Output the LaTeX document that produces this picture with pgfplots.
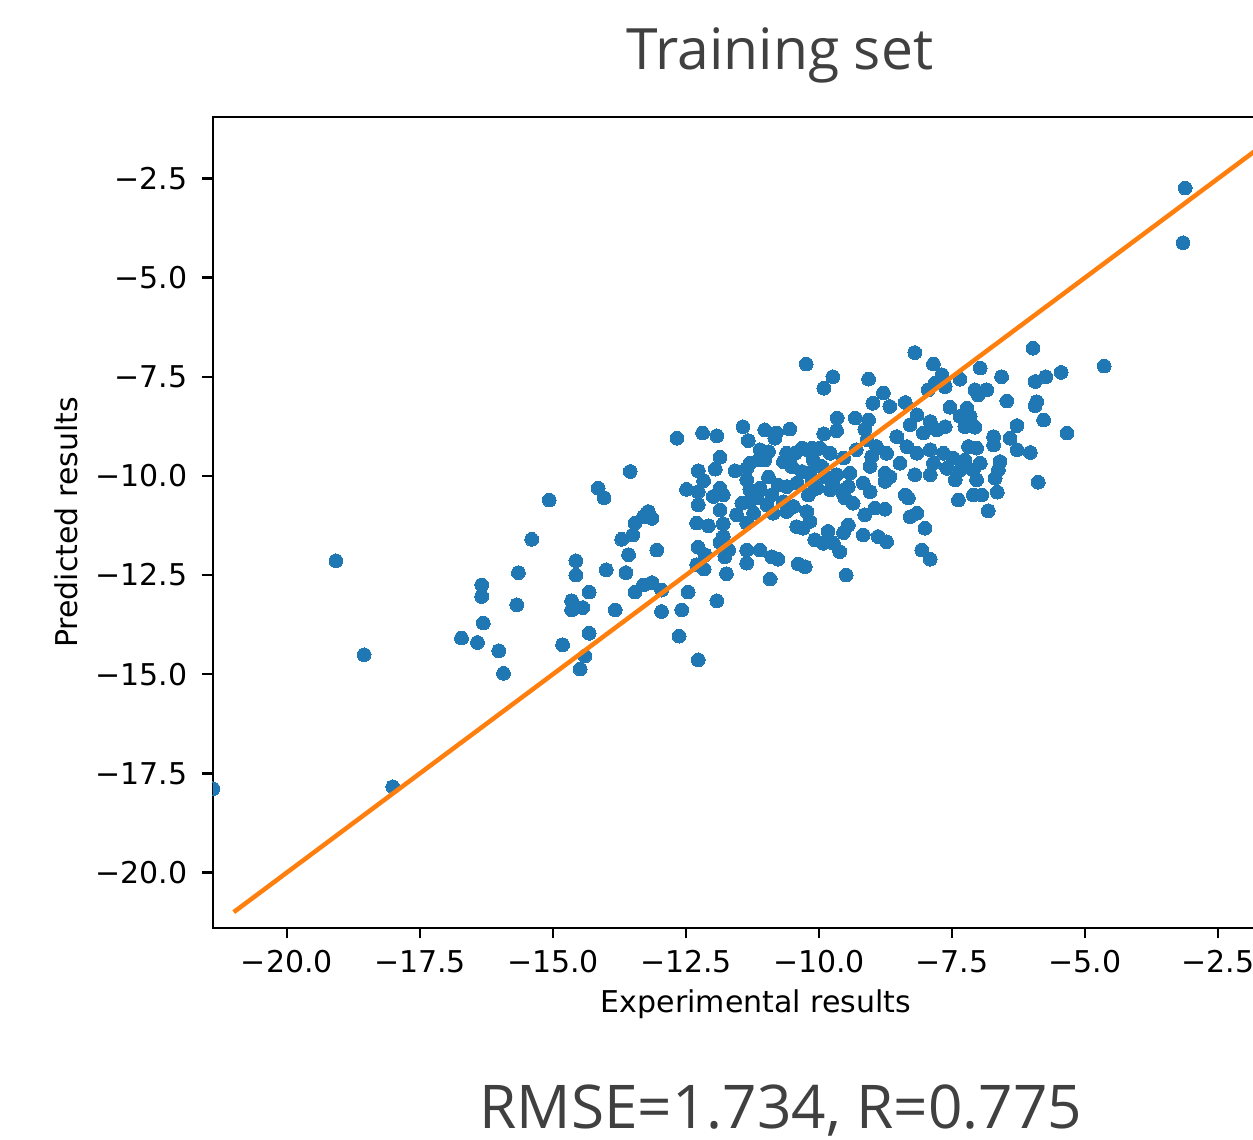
\documentclass[border=0pt]{standalone}
\usepackage{fontspec}
\setmainfont{DejaVu Sans}
\newfontfamily\slidefont{Open Sans}
\usepackage{pgfplots}
\usepackage{pgfplotstable}
\pgfplotsset{compat=1.18}
\definecolor{mblue}{HTML}{1F77B4}
\definecolor{morange}{HTML}{FF7F0E}
\definecolor{slidegray}{HTML}{404040}
\pgfplotstableread{
x y
-19.08 -12.14
-18.55 -14.51
-18.01 -17.84
-21.39 -17.89
-3.12 -2.74
-3.16 -4.12
-13.55 -9.89
-14.15 -10.31
-14.04 -10.55
-15.07 -10.61
-13.46 -11.19
-13.50 -11.49
-13.71 -11.60
-15.40 -11.60
-13.58 -11.99
-14.57 -12.14
-14.57 -12.50
-14.00 -12.37
-13.63 -12.44
-15.65 -12.44
-16.34 -12.75
-16.34 -13.04
-14.32 -12.93
-13.46 -12.93
-14.65 -13.15
-14.65 -13.38
-14.44 -13.32
-15.68 -13.25
-13.83 -13.38
-16.31 -13.71
-14.32 -13.97
-16.72 -14.09
-16.42 -14.20
-14.82 -14.26
-16.02 -14.41
-14.40 -14.54
-14.49 -14.87
-15.93 -14.98
-12.67 -9.05
-12.19 -8.92
-11.92 -8.99
-11.43 -8.76
-11.02 -8.84
-10.80 -8.92
-10.55 -8.82
-10.83 -9.05
-11.33 -9.11
-11.11 -9.34
-10.95 -9.39
-10.61 -9.43
-10.45 -9.43
-11.86 -9.53
-11.14 -9.60
-11.02 -9.60
-10.67 -9.64
-11.30 -9.68
-11.95 -9.83
-12.27 -9.87
-11.58 -9.87
-11.36 -9.81
-10.51 -9.77
-11.36 -10.10
-10.95 -10.03
-12.17 -10.12
-10.77 -10.23
-10.61 -10.27
-12.49 -10.34
-12.27 -10.40
-11.86 -10.31
-11.80 -10.48
-11.99 -10.52
-11.30 -10.35
-11.11 -10.31
-11.17 -10.56
-10.89 -10.48
-12.27 -10.73
-11.45 -10.69
-11.30 -10.65
-10.98 -10.73
-10.67 -10.65
-10.48 -10.77
-11.86 -10.86
-11.55 -10.98
-11.23 -10.94
-10.86 -10.94
-10.61 -10.90
-13.21 -10.90
-13.14 -11.07
-13.30 -11.03
-12.30 -11.19
-12.08 -11.26
-11.80 -11.21
-11.36 -11.19
-10.42 -11.28
-11.80 -11.53
-13.05 -11.87
-12.27 -11.80
-11.86 -11.68
-11.70 -11.87
-12.14 -11.99
-11.77 -12.04
-11.36 -11.87
-11.11 -11.87
-10.89 -12.04
-10.77 -12.10
-11.36 -12.20
-12.30 -12.24
-12.16 -12.35
-10.39 -12.22
-11.74 -12.47
-10.92 -12.60
-13.30 -12.75
-13.14 -12.69
-12.96 -12.88
-12.46 -12.93
-11.92 -13.15
-12.96 -13.42
-12.58 -13.38
-12.63 -14.04
-12.27 -14.64
-8.20 -6.89
-10.24 -7.18
-7.85 -7.18
-9.74 -7.50
-9.91 -7.79
-9.07 -7.56
-8.79 -7.91
-8.99 -8.17
-8.67 -8.25
-8.38 -8.15
-7.95 -7.83
-7.82 -7.66
-9.66 -8.54
-9.32 -8.54
-9.07 -8.59
-8.16 -8.46
-9.67 -8.86
-9.91 -8.94
-9.14 -8.82
-8.54 -9.01
-8.29 -8.71
-7.91 -8.63
-8.04 -8.92
-7.79 -8.84
-10.23 -9.34
-9.98 -9.30
-9.79 -9.43
-9.10 -9.09
-8.92 -9.26
-8.73 -9.43
-9.01 -9.51
-8.35 -9.26
-8.16 -9.43
-7.91 -9.34
-9.54 -9.55
-10.11 -9.60
-8.48 -9.68
-7.85 -9.68
-10.17 -9.93
-9.67 -9.97
-9.42 -9.93
-8.76 -9.93
-8.20 -9.97
-7.91 -9.97
-9.73 -10.23
-9.45 -10.27
-8.76 -10.14
-9.04 -10.40
-8.38 -10.48
-8.32 -10.56
-10.20 -10.48
-9.51 -10.56
-9.36 -10.69
-10.23 -10.90
-10.17 -11.15
-10.30 -11.32
-9.14 -10.98
-8.95 -10.81
-8.76 -10.84
-8.29 -11.03
-8.16 -10.94
-9.45 -11.24
-9.54 -11.43
-9.83 -11.40
-9.17 -11.49
-8.89 -11.53
-8.73 -11.66
-8.01 -11.32
-10.08 -11.61
-9.92 -11.70
-9.73 -11.70
-9.61 -11.91
-8.07 -11.87
-7.91 -12.10
-10.26 -12.29
-9.49 -12.50
-5.98 -6.78
-4.64 -7.23
-6.97 -7.28
-6.57 -7.50
-5.74 -7.50
-5.45 -7.39
-5.94 -7.62
-7.35 -7.56
-7.69 -7.45
-7.07 -7.83
-6.85 -7.83
-7.01 -7.96
-7.63 -7.75
-6.47 -8.11
-5.91 -8.13
-5.94 -8.23
-7.54 -8.27
-7.22 -8.29
-7.35 -8.50
-7.16 -8.50
-5.78 -8.59
-6.28 -8.73
-7.63 -8.76
-7.07 -8.77
-7.26 -8.76
-5.34 -8.92
-6.72 -9.01
-6.41 -9.05
-7.19 -9.26
-7.04 -9.30
-6.72 -9.22
-6.28 -9.34
-6.03 -9.41
-7.66 -9.43
-7.48 -9.55
-7.26 -9.60
-6.97 -9.68
-6.60 -9.64
-7.60 -9.81
-7.35 -9.85
-7.10 -9.85
-6.63 -9.85
-5.88 -10.16
-7.44 -10.10
-7.04 -10.10
-6.69 -10.06
-7.10 -10.48
-6.94 -10.48
-6.65 -10.41
-7.38 -10.61
-6.82 -10.88
-10.32 -9.30
-10.13 -9.30
-9.95 -9.76
-10.32 -9.89
-10.13 -10.14
-9.89 -10.02
-10.42 -10.18
-10.04 -10.31
-9.79 -10.35
-9.30 -9.34
-9.04 -9.76
-8.67 -10.02
-9.17 -10.18
-9.55 -10.44
}\train

\begin{document}
\begin{tikzpicture}
\begin{axis}[
  at={(0bp,0bp)}, anchor=south west,
  scale only axis, width=362bp, height=270.33bp,
  xmin=-21.39, xmax=-0.98, ymin=-21.40, ymax=-0.95,
  axis line style={line width=0.8bp, black},
  tick style={line width=0.8bp, black},
  tick align=outside, major tick length=3.5bp,
  xtick pos=bottom, ytick pos=left,
  xtick={-20,-17.5,-15,-12.5,-10,-7.5,-5,-2.5},
  xticklabels={−20.0,−17.5,−15.0,−12.5,−10.0,−7.5,−5.0,−2.5},
  ytick={-20,-17.5,-15,-12.5,-10,-7.5,-5,-2.5},
  yticklabels={−20.0,−17.5,−15.0,−12.5,−10.0,−7.5,−5.0,−2.5},
  ticklabel style={font=\fontsize{10bp}{12bp}\selectfont, text=black},
  xticklabel style={anchor=base, inner sep=0pt, yshift=-11.5bp},
  yticklabel style={anchor=east, inner sep=0pt, xshift=-4.8bp},
  xlabel={Experimental results}, ylabel={Predicted results},
  label style={font=\fontsize{10bp}{12bp}\selectfont, inner sep=0pt},
  xlabel style={at={(axis description cs:0.5,0)}, anchor=base, yshift=-28.33bp},
  ylabel style={at={(axis description cs:0,0.5)}, anchor=base, yshift=45.3bp},
  clip marker paths=true,
]
\addplot[only marks, mark=*, mark size=2.3bp, mark options={fill=mblue, draw=mblue, line width=0pt}] table[x=x, y=y] {\train};
\addplot[morange, line width=1.5bp] coordinates {(-21,-21) (-1.5,-1.5)};
\end{axis}
\node[anchor=base, text=slidegray, font=\slidefont\fontsize{19bp}{23bp}\selectfont] at (189bp,286bp) {Training set};
\node[anchor=base, text=slidegray, font=\slidefont\fontsize{20.1bp}{24bp}\selectfont] at (189.3bp,-66.8bp) {RMSE=1.734, R=0.775};
\pgfresetboundingbox
\useasboundingbox (-71bp,-70.67bp) rectangle (346.67bp,309.33bp);
\end{tikzpicture}
\end{document}
